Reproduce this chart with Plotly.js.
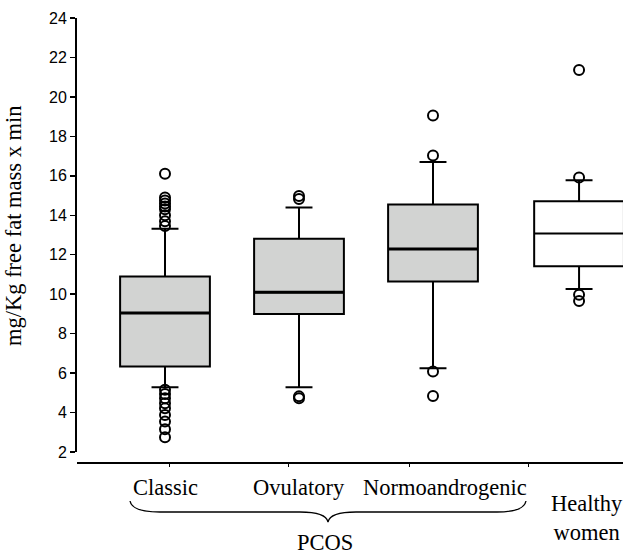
<!DOCTYPE html>
<html>
<head>
<meta charset="utf-8">
<script src="https://cdn.plot.ly/plotly-3.0.1.min.js"></script>
<style>html,body{margin:0;padding:0;background:#fff;}#chart{width:623px;height:553px;}</style>
</head>
<body>
<div id="chart"></div>
<script>
// ---- data ----
const categories = ["Classic", "Ovulatory", "Normoandrogenic", "Healthy<br>women"];
const groupLabel = "PCOS";
const q1Values = [6.33, 9.0, 10.64, 11.41];
const medianValues = [9.04, 10.1, 12.29, 13.07];
const q3Values = [10.9, 12.81, 14.54, 14.71];
const lowerFence = [5.28, 5.28, 6.25, 10.26];
const upperFence = [13.32, 14.4, 16.7, 15.77];
const outliersClassic = [16.1, 14.9, 14.75, 14.6, 14.45, 14.3, 14.0, 13.7, 13.45, 5.15, 4.94, 4.72, 4.47, 4.22, 3.88, 3.54, 3.15, 2.75];
const outliersOvulatory = [14.98, 14.82, 4.82, 4.72];
const outliersNormo = [19.06, 17.03, 6.08, 4.84];
const outliersHealthy = [21.36, 15.92, 9.97, 9.66];
const yTickVals = [2, 4, 6, 8, 10, 12, 14, 16, 18, 20, 22, 24];
const yTitle = "mg/Kg free fat mass x min";

// ---- layout helpers (positions / styles) ----
const xPos = [1, 2, 3, 4.09];
const boxWidth = 0.67;
const fills = ["#d2d3d2", "#d2d3d2", "#d2d3d2", "#ffffff"];
const outlierSets = [outliersClassic, outliersOvulatory, outliersNormo, outliersHealthy];
const xTickMarks = [1.037, 1.925, 2.821, 3.709];

const L = 77, R = 623, T = 18, B = 463;
const pxX = p => (p - L) / (R - L);
const pxY = p => (B - p) / (B - T);

const traces = [];
for (let i = 0; i < categories.length; i++) {
  traces.push({
    type: 'box', x: [xPos[i]], q1: [q1Values[i]], median: [medianValues[i]], q3: [q3Values[i]],
    lowerfence: [lowerFence[i]], upperfence: [upperFence[i]],
    width: boxWidth, whiskerwidth: 0.3, boxpoints: false,
    fillcolor: fills[i], line: {color: '#000', width: 2},
    hoverinfo: 'skip', showlegend: false
  });
  if (i < 3) {
    traces.push({
      type: 'scatter', mode: 'lines',
      x: [xPos[i] - boxWidth / 2, xPos[i] + boxWidth / 2], y: [medianValues[i], medianValues[i]],
      line: {color: '#000', width: 3}, hoverinfo: 'skip', showlegend: false
    });
  }
  traces.push({
    type: 'scatter', mode: 'markers',
    x: outlierSets[i].map(() => xPos[i]), y: outlierSets[i],
    marker: {symbol: 'circle-open', size: 10, color: '#000', line: {width: 2, color: '#000'}},
    hoverinfo: 'skip', showlegend: false, cliponaxis: false
  });
}

const serif = "Liberation Serif, Times New Roman, serif";
const annotations = [];
const labelX = [xPos[0], xPos[1], 3.09, 4.15];
const labelY = [pxY(488), pxY(488), pxY(488), pxY(518)];
for (let i = 0; i < categories.length; i++) {
  annotations.push({
    x: labelX[i], xref: 'x', y: labelY[i], yref: 'paper', text: categories[i],
    showarrow: false, xanchor: 'center', yanchor: 'middle',
    font: {family: serif, size: 22.5, color: '#000'}
  });
}
annotations.push({
  x: pxX(325), xref: 'paper', y: pxY(542), yref: 'paper', text: groupLabel,
  showarrow: false, xanchor: 'center', yanchor: 'middle',
  font: {family: serif, size: 22.5, color: '#000'}
});
annotations.push({
  x: pxX(14), xref: 'paper', y: pxY(226), yref: 'paper', text: yTitle, textangle: -90,
  showarrow: false, xanchor: 'center', yanchor: 'middle',
  font: {family: serif, size: 22.5, color: '#000'}
});

function P(x, y) { return pxX(x).toFixed(5) + ',' + pxY(y).toFixed(5); }
const bracePath = 'M ' + P(130, 501) + ' Q ' + P(132, 512) + ' ' + P(160, 512) +
  ' L ' + P(300, 512) + ' Q ' + P(326, 512) + ' ' + P(328, 522) +
  ' Q ' + P(330, 512) + ' ' + P(356, 512) + ' L ' + P(497, 512) +
  ' Q ' + P(524, 512) + ' ' + P(526, 501);

const layout = {
  width: 623, height: 553,
  margin: {l: L, r: 623 - R, t: T, b: 553 - B, pad: 0},
  paper_bgcolor: '#fff', plot_bgcolor: '#fff',
  showlegend: false,
  xaxis: {
    range: [1 - (165 - L) / 134, 1 + (R - 165) / 134],
    anchor: 'free', position: 0,
    showline: true, linecolor: '#000', linewidth: 2,
    tickvals: xTickMarks, ticks: 'outside', ticklen: 3, tickwidth: 1, tickcolor: '#000',
    showticklabels: false, showgrid: false, zeroline: false, fixedrange: true
  },
  yaxis: {
    domain: [pxY(452), 1], range: [2, 24],
    tickvals: yTickVals, ticks: 'outside', ticklen: 5, tickwidth: 1.5, tickcolor: '#000',
    showline: true, linecolor: '#000', linewidth: 2,
    showgrid: false, zeroline: false,
    tickfont: {family: "Liberation Sans, Arial, sans-serif", size: 16, color: '#000'},
    fixedrange: true
  },
  shapes: [{type: 'path', xref: 'paper', yref: 'paper', path: bracePath, line: {color: '#000', width: 1.3}}],
  annotations: annotations
};

Plotly.newPlot('chart', traces, layout, {displayModeBar: false, staticPlot: true});
</script>
</body>
</html>
